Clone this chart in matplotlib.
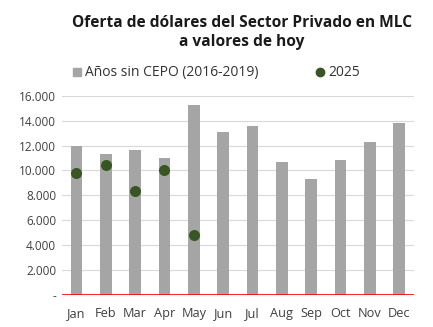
import matplotlib
matplotlib.use("Agg")
import matplotlib.pyplot as plt
from matplotlib.ticker import FuncFormatter
from matplotlib.lines import Line2D

months = ["Jan", "Feb", "Mar", "Apr", "May", "Jun", "Jul", "Aug", "Sep", "Oct", "Nov", "Dec"]
sin_cepo = [12000, 11320, 11620, 11000, 15250, 13060, 13540, 10650, 9340, 10860, 12260, 13810]
y2025 = [9770, 10410, 8370, 10030, 4820]

plt.rcParams["font.family"] = ["Open Sans", "DejaVu Sans"]

fig = plt.figure(figsize=(4.33, 3.27), dpi=100)
ax = fig.add_axes([0.1425, 0.098, 0.8135, 0.6093])

x = list(range(len(months)))
ax.bar(x, sin_cepo, width=0.4, color="#A5A5A5", zorder=2)
ax.scatter(range(len(y2025)), y2025, s=48, color="#375623", zorder=3)
ax.axhline(0, color="#FF0000", lw=1.2, zorder=4)

ax.set_xlim(-0.5, 11.5)
ax.set_ylim(0, 16000)
ax.set_yticks(range(0, 16001, 2000))
ax.yaxis.set_major_formatter(FuncFormatter(
    lambda v, p: "-" if v == 0 else f"{int(v):,}".replace(",", ".")))
ax.set_xticks(x)
ax.set_xticklabels(months)
ax.grid(axis="y", color="#D9D9D9", lw=0.8, zorder=0)
for s in ax.spines.values():
    s.set_visible(False)
ax.tick_params(axis="y", length=0, labelsize=8.5, colors="#404040", pad=4)
ax.tick_params(axis="x", length=0, labelsize=9.2, colors="#404040", pad=9)

fig.text(0.558, 0.901, "Oferta de dólares del Sector Privado en MLC\na valores de hoy",
         ha="center", va="center", fontsize=11.2, fontweight="bold", linespacing=1.3,
         color="#1a1a1a")

handles = [
    Line2D([], [], marker="s", ls="", color="#A5A5A5", markersize=5.5),
    Line2D([], [], marker="o", ls="", color="#375623", markersize=6),
]
fig.legend(handles, ["Años sin CEPO (2016-2019)", "2025"], loc="center",
           bbox_to_anchor=(0.498, 0.777), ncol=2, frameon=False, fontsize=10,
           handletextpad=0.2, columnspacing=4.0, handlelength=0.8,
           labelcolor="#333333")

fig.savefig("out.png", dpi=100)
